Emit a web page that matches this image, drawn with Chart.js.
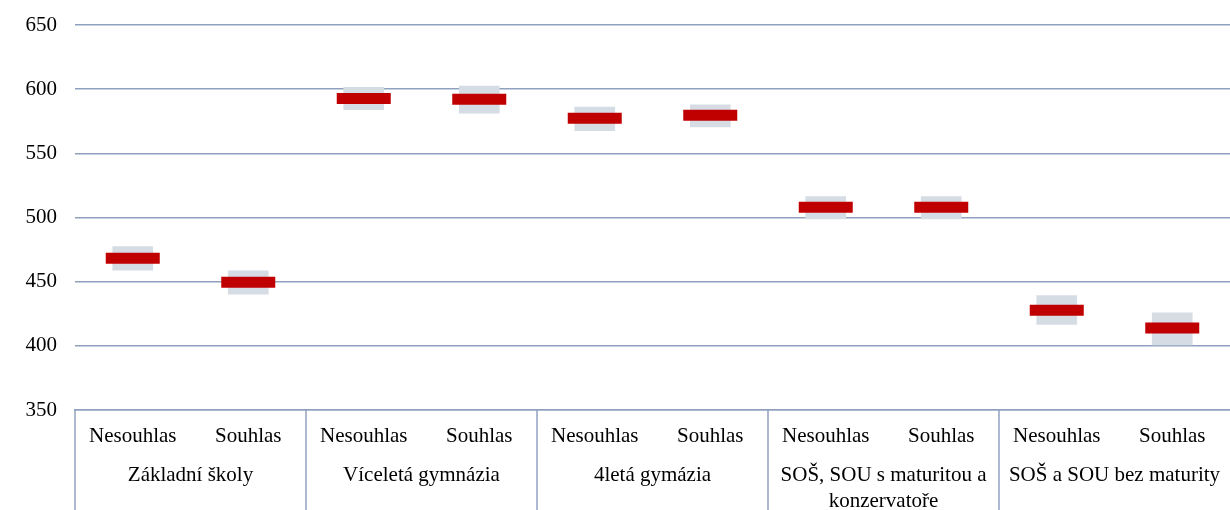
<!DOCTYPE html>
<html>
<head>
<meta charset="utf-8">
<script src="https://cdn.jsdelivr.net/npm/chart.js@4"></script>
<style>
  html, body { margin: 0; padding: 0; background: #fff; }
  #wrap { width: 1230px; height: 510px; }
</style>
</head>
<body>
<div id="wrap"><canvas id="chart" width="1230" height="510"></canvas></div>
<script>
// === Data ===
const answerLabels = ["Nesouhlas", "Souhlas", "Nesouhlas", "Souhlas", "Nesouhlas", "Souhlas", "Nesouhlas", "Souhlas", "Nesouhlas", "Souhlas"];
const schoolTypes = ["Základní školy", "Víceletá gymnázia", "4letá gymázia", ["SOŠ, SOU s maturitou a", "konzervatoře"], "SOŠ a SOU bez maturity"];
const means = [468.3, 449.6, 592.8, 592.1, 577.3, 579.7, 507.9, 507.9, 427.8, 413.8];
const ciLow = [459.0, 440.3, 584.0, 581.2, 567.7, 570.6, 498.9, 498.9, 416.6, 400.8];
const ciHigh = [477.3, 458.4, 601.5, 602.5, 586.1, 587.7, 516.3, 516.3, 439.2, 425.7];
const yTicks = [350, 400, 450, 500, 550, 600, 650];

const FONT = { family: "'Liberation Serif', 'Times New Roman', serif", size: 21 };
const GRID = "#8FA1BF";

// vertical separators between school types, below the plot
const groupSeparators = {
  id: "groupSeparators",
  afterDraw(chart) {
    const x = chart.scales.x;
    const ctx = chart.ctx;
    ctx.save();
    ctx.strokeStyle = GRID;
    ctx.lineWidth = 1.5;
    for (let g = 0; g < schoolTypes.length; g++) {
      const i = g * 2;
      const px = i === 0 ? x.left : (x.getPixelForValue(i - 1) + x.getPixelForValue(i)) / 2;
      ctx.beginPath();
      ctx.moveTo(px, chart.chartArea.bottom);
      ctx.lineTo(px, chart.height);
      ctx.stroke();
    }
    ctx.restore();
  },
};

const noSidePadding = (s, h) => {
  s.height = h;
  s.paddingLeft = 0;
  s.paddingRight = 0;
};

new Chart(document.getElementById("chart").getContext("2d"), {
  data: {
    labels: answerLabels,
    datasets: [
      {
        type: "line",
        label: "Průměr",
        data: means,
        showLine: false,
        pointStyle: "line",
        pointRadius: 27,
        pointHoverRadius: 27,
        pointBorderWidth: 11,
        borderColor: "#C00000",
        order: 0,
      },
      {
        type: "bar",
        label: "Interval spolehlivosti",
        data: ciLow.map((lo, i) => [lo, ciHigh[i]]),
        backgroundColor: "#D6DCE4",
        barThickness: 40,
        order: 1,
      },
    ],
  },
  options: {
    responsive: false,
    animation: false,
    layout: { autoPadding: false, padding: { top: 25, right: 0, left: 0, bottom: 0 } },
    plugins: { legend: { display: false }, tooltip: { enabled: false } },
    scales: {
      y: {
        min: 350,
        max: 650,
        afterFit: (s) => { s.width = 75; s.paddingTop = 0; s.paddingBottom = 0; },
        afterBuildTicks: (s) => { s.ticks = yTicks.map((v) => ({ value: v })); },
        ticks: { font: FONT, color: "#000", padding: 18 },
        grid: { color: GRID, lineWidth: 1.5, drawTicks: false },
        border: { display: false },
      },
      x: {
        type: "category",
        offset: true,
        afterFit: (s) => noSidePadding(s, 40),
        ticks: { font: FONT, color: "#000", padding: 14, autoSkip: false, maxRotation: 0 },
        grid: { display: false, drawTicks: false },
        border: { display: true, color: GRID, width: 1.5 },
      },
      x2: {
        type: "category",
        position: "bottom",
        labels: schoolTypes,
        offset: true,
        afterFit: (s) => noSidePadding(s, 60),
        ticks: { font: { ...FONT, lineHeight: 1.24 }, color: "#000", padding: 12, autoSkip: false, maxRotation: 0 },
        grid: { display: false, drawTicks: false },
        border: { display: false },
      },
    },
  },
  plugins: [groupSeparators],
});
</script>
</body>
</html>
